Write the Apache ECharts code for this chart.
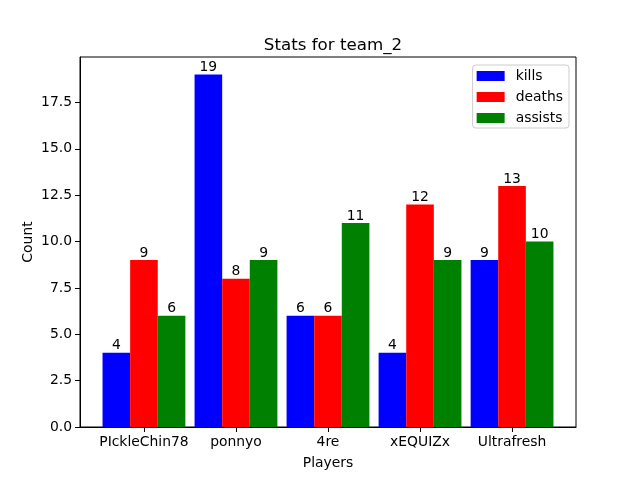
<!DOCTYPE html>
<html><head><meta charset="utf-8">
<script src="https://cdn.jsdelivr.net/npm/echarts@6/dist/echarts.min.js"></script>
<style>html,body{margin:0;padding:0;background:#fff}#c{width:640px;height:480px}</style>
</head><body><div id="c"></div>
<script>
const players = ['PIckleChin78', 'ponnyo', '4re', 'xEQUIZx', 'Ultrafresh'];
const kills = [4, 19, 6, 4, 9];
const deaths = [9, 8, 6, 12, 13];
const assists = [6, 9, 11, 9, 10];
const yTicks = [0, 2.5, 5, 7.5, 10, 12.5, 15, 17.5];

const barW = 0.3;
const xMin = -0.695, xMax = 4.695;
const gridLeft = 80, gridRight = 64;
const pxPerUnit = (640 - gridLeft - gridRight) / (xMax - xMin);
const font = 'DejaVu Sans';
const fs = 13.9;

function mk(name, vals, off, color) {
  return {
    name: name, type: 'bar',
    data: vals.map((v, i) => [i + off, v]),
    barWidth: barW * pxPerUnit,
    barGap: '-100%',
    itemStyle: { color: color, borderWidth: 0 },
    label: { show: true, position: 'top', color: '#000', fontFamily: font, fontSize: fs, distance: 0,
             formatter: p => String(p.value[1]) },
    emphasis: { disabled: true }
  };
}

const chart = echarts.init(document.getElementById('c'), null, { renderer: 'canvas' });
chart.setOption({
  animation: false,
  backgroundColor: '#fff',
  title: { text: 'Stats for team_2', left: 328, textAlign: 'center', top: 32,
           textStyle: { fontFamily: font, fontSize: 16.7, fontWeight: 'normal', color: '#000' } },
  legend: {
    orient: 'vertical', right: 71, top: 65,
    itemWidth: 28, itemHeight: 10, itemGap: 7,
    padding: [4, 6, 3, 4],
    borderColor: '#cccccc', borderWidth: 1, borderRadius: 3,
    backgroundColor: 'rgba(255,255,255,0.8)',
    textStyle: { fontFamily: font, fontSize: fs, color: '#000', padding: [0, 0, 0, 6] },
    icon: 'rect',
    data: ['kills', 'deaths', 'assists']
  },
  grid: { left: gridLeft, right: gridRight, top: 57, bottom: 53, show: true, borderColor: '#000', borderWidth: 1, backgroundColor: 'transparent' },
  xAxis: {
    type: 'value', min: xMin, max: xMax,
    name: 'Players', nameLocation: 'middle', nameGap: 29, nameMoveOverlap: false,
    nameTextStyle: { fontFamily: font, fontSize: fs, color: '#000' },
    splitLine: { show: false },
    axisLine: { show: true, onZero: false, lineStyle: { color: '#000' } },
    axisTick: { show: true, length: 5, lineStyle: { color: '#000' }, customValues: [0, 1, 2, 3, 4] },
    axisLabel: { fontFamily: font, fontSize: fs, color: '#000', margin: 8,
                 customValues: [0, 1, 2, 3, 4], formatter: v => players[Math.round(v)] }
  },
  yAxis: {
    type: 'value', min: 0, max: 19.95,
    name: 'Count', nameLocation: 'middle', nameGap: 45, nameMoveOverlap: false,
    nameTextStyle: { fontFamily: font, fontSize: fs, color: '#000' },
    splitLine: { show: false },
    axisLine: { show: true, onZero: false, lineStyle: { color: '#000' } },
    axisTick: { show: true, length: 5, lineStyle: { color: '#000' }, customValues: yTicks },
    axisLabel: { fontFamily: font, fontSize: fs, color: '#000', margin: 8,
                 customValues: yTicks, formatter: v => v.toFixed(1) }
  },
  series: [
    mk('kills', kills, -barW, '#0000ff'),
    mk('deaths', deaths, 0, '#ff0000'),
    mk('assists', assists, barW, '#008000')
  ]
});
</script></body></html>
